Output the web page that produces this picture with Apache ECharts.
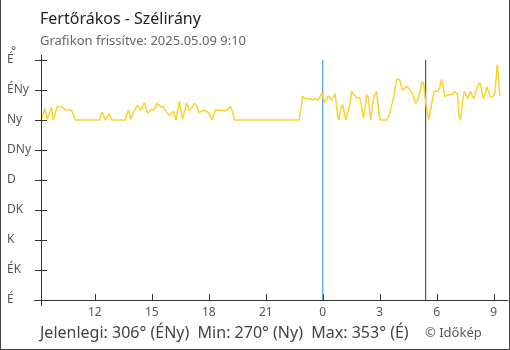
<!DOCTYPE html>
<html><head><meta charset="utf-8">
<script src="https://cdn.jsdelivr.net/npm/echarts@6/dist/echarts.min.js"></script>
<style>html,body{margin:0;padding:0;background:#fff}#c{width:510px;height:350px}</style>
</head><body><div id="c"></div>
<script>
const titleText = "Fertőrákos - Szélirány";
const subtitleText = "Grafikon frissítve: 2025.05.09 9:10";
const footerText = "Jelenlegi: 306° (ÉNy)  Min: 270° (Ny)  Max: 353° (É)";
const creditText = "© Időkép";
const dirLabels = ["É","ÉK","K","DK","D","DNy","Ny","ÉNy","É"];
const hourTicks = [12,15,18,21,24,27,30,33];
const axisStart = "08 09:10";
const axisEnd = "09 09:45";
const midnight = "09 00:00";
const sunrise = "09 05:25";
const times = ["08 09:10","08 09:22","08 09:30","08 09:43","08 09:49","08 10:01","08 10:13","08 10:29","08 10:45","08 10:51","08 10:58","08 12:15","08 12:23","08 12:33","08 12:45","08 12:54","08 13:36","08 13:46","08 13:54","08 14:05","08 14:15","08 14:26","08 14:36","08 14:47","08 14:57","08 15:08","08 15:16","08 15:29","08 15:37","08 15:45","08 15:53","08 16:00","08 16:08","08 16:16","08 16:27","08 16:37","08 16:50","08 16:58","08 17:07","08 17:14","08 17:23","08 17:29","08 17:39","08 17:50","08 18:00","08 18:11","08 18:20","08 18:26","08 18:53","08 19:01","08 19:09","08 19:16","08 19:21","08 22:45","08 22:51","08 22:56","08 23:04","08 23:20","08 23:28","08 23:36","08 23:45","08 23:52","08 23:57","09 00:05","09 00:13","09 00:18","09 00:26","09 00:34","09 00:39","09 00:47","09 00:50","09 00:57","09 01:03","09 01:09","09 01:13","09 01:19","09 01:27","09 01:31","09 01:39","09 01:48","09 01:57","09 02:00","09 02:08","09 02:13","09 02:18","09 02:24","09 02:31","09 02:37","09 02:42","09 02:50","09 02:58","09 03:03","09 03:22","09 03:29","09 03:35","09 03:43","09 03:48","09 03:54","09 04:02","09 04:06","09 04:11","09 04:18","09 04:25","09 04:32","09 04:41","09 04:49","09 04:53","09 05:00","09 05:09","09 05:14","09 05:20","09 05:23","09 05:28","09 05:33","09 05:35","09 05:39","09 05:45","09 05:52","09 06:04","09 06:10","09 06:15","09 06:20","09 06:26","09 06:36","09 06:47","09 06:55","09 07:05","09 07:11","09 07:15","09 07:21","09 07:27","09 07:34","09 07:37","09 07:47","09 07:53","09 07:58","09 08:02","09 08:09","09 08:16","09 08:21","09 08:27","09 08:34","09 08:38","09 08:43","09 08:48","09 08:58","09 09:04","09 09:07","09 09:11","09 09:16","09 09:19"];
const directions = [270,287,271,289,270,290,290,285,285,280,270,270,282,270,279,270,270,285,271,285,292,285,296,280,285,286,295,290,290,282,278,278,283,270,298,271,296,284,289,295,290,281,284,284,280,270,285,284,284,287,290,280,270,270,287,306,302,302,300,302,300,305,311,296,302,306,300,304,310,275,270,287,293,290,270,270,297,313,308,303,303,297,273,285,308,303,270,292,305,313,277,270,270,277,287,302,317,331,331,325,315,317,321,317,312,302,295,300,317,328,322,303,287,275,270,282,297,313,313,320,331,320,305,308,308,312,310,275,270,297,313,306,302,313,306,302,310,321,326,317,302,311,320,314,305,305,312,330,353,330,306];

function toHours(s){ const d=parseInt(s.slice(0,2),10); const [h,m]=s.slice(3).split(':').map(Number); return (d-8)*24+h+m/60; }
const seriesData = times.map((t,i)=>[toHours(t), directions[i]]);

const FONT = "Noto Sans";
const chart = echarts.init(document.getElementById('c'), null, {renderer:'canvas'});
function vline(x, color){
  return {type:'line', data:[[x,0],[x,360]], silent:true, showSymbol:false, symbol:'none',
    lineStyle:{color:color,width:1}, itemStyle:{color:color}, z:2};
}
chart.setOption({
  animation:false,
  textStyle:{fontFamily:FONT},
  title:[
    {text:titleText,left:40,top:11,padding:0,textStyle:{fontSize:16,fontWeight:'normal',color:'#222',fontFamily:FONT}},
    {text:subtitleText,left:40,top:35,padding:0,textStyle:{fontSize:13,fontWeight:'normal',color:'#666',fontFamily:FONT}},
    {text:footerText,left:40,top:325,padding:0,textStyle:{fontSize:16,fontWeight:'normal',color:'#444',fontFamily:FONT}},
    {text:creditText,left:425,top:327,padding:0,textStyle:{fontSize:13,fontWeight:'normal',color:'#555',fontFamily:FONT}}
  ],
  grid:{left:41,top:60,width:467,height:240,containLabel:false},
  xAxis:{
    type:'value', min:toHours(axisStart), max:toHours(axisEnd),
    axisLine:{show:true,lineStyle:{color:'#333',width:1}},
    axisTick:{show:true,inside:true,length:6,customValues:hourTicks,lineStyle:{color:'#333'}},
    axisLabel:{show:true,customValues:hourTicks,formatter:v=>String(Math.round(v)%24),color:'#555',fontSize:12,margin:7,fontFamily:FONT},
    splitLine:{show:false}
  },
  yAxis:[
    {type:'value',min:0,max:360,interval:45,position:'left',
     axisLine:{show:true,lineStyle:{color:'#333'}},
     axisTick:{show:true,length:6,lineStyle:{color:'#333'}},
     axisLabel:{formatter:(v)=>dirLabels[Math.round(v/45)],color:'#555',fontSize:12,align:'left',margin:34,fontFamily:FONT},
     splitLine:{show:false}},
    {type:'value',min:0,max:360,interval:45,position:'left',offset:0,
     axisLine:{show:false},
     axisTick:{show:true,inside:true,length:6,lineStyle:{color:'#333'}},
     axisLabel:{show:false},splitLine:{show:false}}
  ],
  series:[
    {type:'line', data:seriesData, showSymbol:false, symbol:'none',
     lineStyle:{color:'#fcd22c',width:1.5}, itemStyle:{color:'#fcd22c'}, z:3},
    vline(toHours(midnight), '#1e88d8'),
    vline(toHours(sunrise), '#333333')
  ],
  graphic:[
    {type:'text',left:11,top:46,style:{text:'°',fontSize:12,fill:'#555',fontFamily:FONT}},
    {type:'line',shape:{x1:41.5,y1:55,x2:41.5,y2:306},style:{stroke:'#333',lineWidth:1},z:10},
    {type:'line',shape:{x1:34,y1:300.5,x2:508,y2:300.5},style:{stroke:'#333',lineWidth:1},z:10},
    {type:'line',shape:{x1:0.5,y1:0,x2:0.5,y2:349.5},style:{stroke:'#444',lineWidth:1},z:10},
    {type:'line',shape:{x1:509.5,y1:0,x2:509.5,y2:349.5},style:{stroke:'#444',lineWidth:1},z:10},
    {type:'line',shape:{x1:0,y1:349.5,x2:510,y2:349.5},style:{stroke:'#444',lineWidth:1},z:10}
  ]
});
</script></body></html>
